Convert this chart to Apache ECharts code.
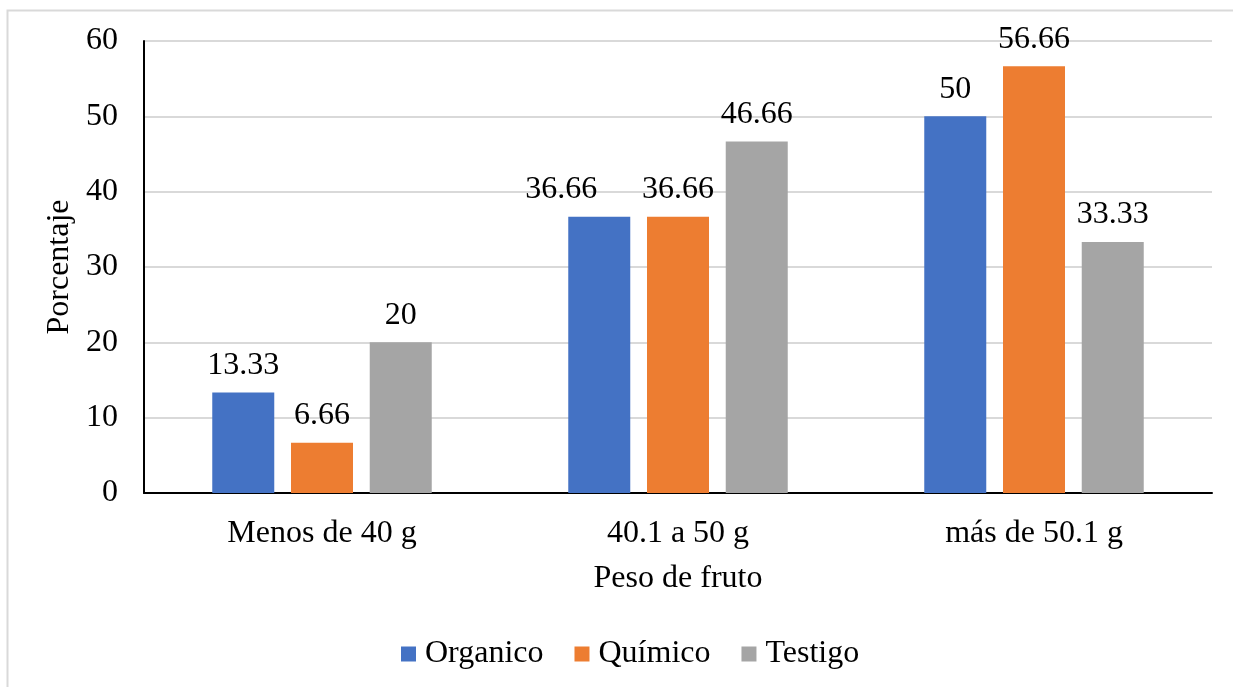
<!DOCTYPE html>
<html>
<head>
<meta charset="utf-8">
<script src="https://cdn.jsdelivr.net/npm/echarts@6/dist/echarts.min.js"></script>
<style>
  html, body { margin: 0; padding: 0; background: #fff; }
  #chart { width: 1233px; height: 687px; }
</style>
</head>
<body>
<div id="chart"></div>
<script>
// Fruit weight classes and the share (%) of fruit in each class per treatment
const categories = ['Menos de 40 g', '40.1 a 50 g', 'más de 50.1 g'];
const organico = [13.33, 36.66, 50];
const quimico = [6.66, 36.66, 56.66];
const testigo = [20, 46.66, 33.33];
const yTicks = { min: 0, max: 60, interval: 10 };

const FONT = '"Liberation Serif", "Times New Roman", serif';
const TXT = '#000';
const FS = 32;

// labelShift: per-category horizontal nudge of the value label (keeps
// neighbouring labels from touching)
function barSeries(name, values, color, labelShift) {
  return {
    name: name,
    type: 'bar',
    data: values.map(function (v, i) {
      const item = { value: v };
      if (labelShift && labelShift[i]) {
        item.label = { offset: [labelShift[i], 0] };
      }
      return item;
    }),
    barWidth: 62,
    barGap: '27%',
    itemStyle: { color: color },
    label: {
      show: true,
      position: 'top',
      distance: 11,
      fontFamily: FONT,
      fontSize: FS,
      color: TXT
    }
  };
}

const chart = echarts.init(document.getElementById('chart'), null, { renderer: 'canvas' });
chart.setOption({
  animation: false,
  backgroundColor: '#fff',
  textStyle: { fontFamily: FONT, color: TXT },
  graphic: [{
    type: 'rect',
    shape: { x: 7.5, y: 10.5, width: 1300, height: 760 },
    style: { fill: 'none', stroke: '#d9d9d9', lineWidth: 2 },
    silent: true,
    z: -1
  }],
  grid: { left: 144, right: 21, top: 41, bottom: 194 },
  legend: {
    bottom: 12,
    left: 396,
    itemWidth: 15,
    itemHeight: 15,
    itemGap: 31,
    icon: 'rect',
    textStyle: { fontFamily: FONT, fontSize: FS, color: TXT, padding: [0, 0, 0, 4] },
    data: ['Organico', 'Químico', 'Testigo']
  },
  xAxis: {
    type: 'category',
    data: categories,
    name: 'Peso de fruto',
    nameLocation: 'middle',
    nameGap: 70,
    nameTextStyle: { fontFamily: FONT, fontSize: FS, color: TXT },
    axisLine: { lineStyle: { color: '#000', width: 2 } },
    axisTick: { show: false },
    axisLabel: { fontFamily: FONT, fontSize: FS, color: TXT, margin: 25 }
  },
  yAxis: {
    type: 'value',
    min: yTicks.min,
    max: yTicks.max,
    interval: yTicks.interval,
    name: 'Porcentaje',
    nameLocation: 'middle',
    nameGap: 65,
    nameTextStyle: { fontFamily: FONT, fontSize: FS, color: TXT },
    axisLine: { show: true, lineStyle: { color: '#000', width: 2 } },
    axisTick: { show: false },
    splitLine: { lineStyle: { color: '#d9d9d9', width: 2 } },
    axisLabel: { fontFamily: FONT, fontSize: FS, color: TXT, margin: 26 }
  },
  series: [
    barSeries('Organico', organico, '#4472C4', [0, -38, 0]),
    barSeries('Químico', quimico, '#ED7D31'),
    barSeries('Testigo', testigo, '#A5A5A5')
  ]
});
</script>
</body>
</html>
